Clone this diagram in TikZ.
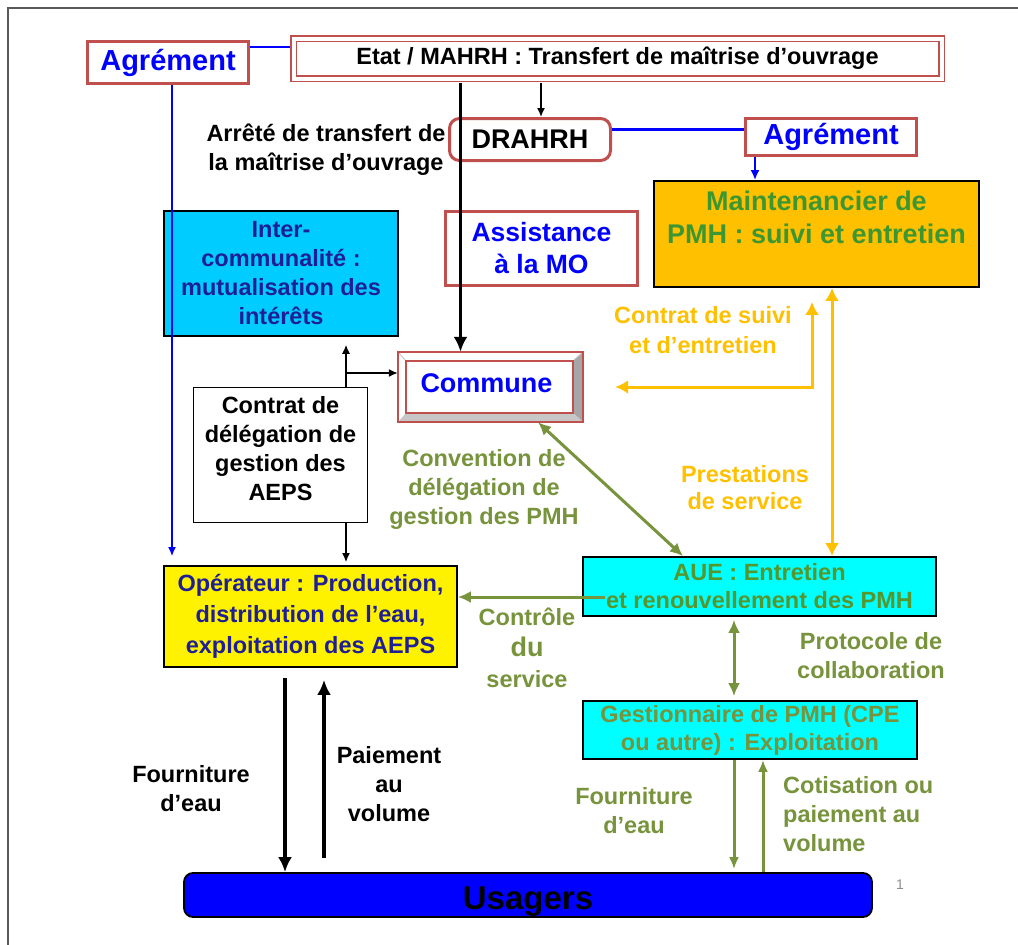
\documentclass[tikz,border=0pt]{standalone}
\usepackage{fontspec}
\setmainfont{Liberation Sans}
\usetikzlibrary{arrows.meta,calc}
\tikzset{>={Latex[length=13pt,width=12pt]}}
\definecolor{boxred}{RGB}{192,80,77}
\definecolor{olive}{RGB}{119,147,60}
\definecolor{amber}{RGB}{255,192,0}
\definecolor{skycyan}{RGB}{0,204,255}
\definecolor{aqua}{RGB}{0,255,255}
\definecolor{navy}{RGB}{30,30,150}
\definecolor{leafgreen}{RGB}{60,150,50}
\definecolor{auegreen}{RGB}{85,150,45}
\newcommand{\txt}[2]{\fontsize{#1pt}{#2pt}\selectfont\bfseries}
\tikzset{
  redbox/.style={draw=boxred, line width=3pt, fill=white, align=center, font=\txt{23.5}{29}},
  fillbox/.style={draw=black, line width=1.8pt, align=center, font=\txt{23.5}{29}},
  note/.style={align=center, font=\txt{23.5}{29}},
  thinline/.style={line width=1.5pt, >={Latex[length=9pt,width=8pt]}},
  boldline/.style={line width=3.8pt, >={Latex[length=15pt,width=14pt]}},
  oliveline/.style={draw=olive, line width=3pt},
  amberline/.style={draw=amber, line width=3pt, >={Latex[length=13pt,width=14pt]}}
}

\begin{document}
\begin{tikzpicture}[x=1pt, y=-1pt, inner sep=0pt]
\useasboundingbox (0,0) rectangle (1018,945);
\draw[line width=1.5pt, black!65] (8,945) -- (8,8) -- (1018,8); % slide frame

% boxes
\node[redbox, minimum width=161pt, minimum height=42pt, text=blue, font=\txt{29}{34}] (agrL) at (168,62.5) {Agrément};
\node[draw=boxred, double=white, double distance=4pt, line width=1.6pt, minimum width=648pt, minimum height=40pt, note] (etat) at (617.5,58.5) {Etat / MAHRH : Transfert de maîtrise d’ouvrage};
\node[redbox, rounded corners=10pt, minimum width=161pt, minimum height=42pt, font=\txt{27}{32}] (drahrh) at (530,139.5) {DRAHRH};
\node[redbox, minimum width=171pt, minimum height=37pt, text=blue, font=\txt{29}{34}] (agrR) at (831,137) {Agrément};
\node[fillbox, fill=amber, text=leafgreen, minimum width=325pt, minimum height=106pt, font=\txt{27}{33}] (maint) at (816.5,234) {Maintenancier de\\PMH : suivi et entretien\\\mbox{}};
\node[fillbox, fill=skycyan, text=navy, line width=1.5pt, minimum width=234pt, minimum height=125pt] (inter) at (281,273.5) {Inter-\\communalité :\\mutualisation des\\intérêts};
\node[redbox, minimum width=192pt, minimum height=74pt, text=blue, font=\txt{26.5}{32}] (assist) at (541.5,248.5) {Assistance\\à la MO};
\node[note, minimum width=185pt, minimum height=70pt] (commune) at (490.5,387) {};
\node[fillbox, fill=white, line width=1.2pt, minimum width=174pt, minimum height=135pt] (contrat) at (280.5,455) {};
\node[fillbox, fill=yellow, text=navy, minimum width=293pt, minimum height=101pt, font=\txt{23.5}{31}] (oper) at (310.5,616.5) {Opérateur : Production,\\distribution de l’eau,\\exploitation des AEPS};
\node[fillbox, fill=aqua, text=auegreen, minimum width=353pt, minimum height=59pt, font=\txt{23.5}{28}] (aue) at (759.5,586.5) {AUE : Entretien\\et renouvellement des PMH};
\node[fillbox, fill=aqua, text=olive, minimum width=334pt, minimum height=58pt, font=\txt{23.5}{28}] (gest) at (750,730) {Gestionnaire de PMH (CPE\\ou autre) : Exploitation};
\node[fillbox, fill=blue, rounded corners=9pt, minimum width=688pt, minimum height=44pt] (usagers) at (528,895) {};

% bevel of Commune
\coordinate (cmA) at ([xshift=8pt,yshift=-9pt]commune.north west);
\coordinate (cmB) at ([xshift=-10pt,yshift=9pt]commune.south east);
\fill[black!35] (commune.north east) -- (commune.south east) -- (cmB) -- (cmA -| cmB) -- cycle;
\fill[black!22] (commune.south west) -- (commune.south east) -- (cmB) -- (cmA |- cmB) -- cycle;
\draw[black!25, line width=0.8pt] (commune.north west) -- (cmA) (commune.north east) -- (cmA -| cmB);
\draw[boxred, line width=2pt] (cmA) rectangle (cmB);
\draw[boxred, line width=2.5pt] (commune.north west) rectangle (commune.south east);
\node[text=blue, font=\txt{27}{32}] (communetxt) at ([xshift=-4pt,yshift=4pt]commune.center) {Commune};
\node[note] (contrattxt) at ([yshift=6pt]contrat.center) {Contrat de\\délégation de\\gestion des\\AEPS};
\node[font=\txt{33}{38}] (usagerstxt) at ([yshift=-7pt]usagers.center) {Usagers};

% labels
\node[note] (arrete) at (326,150) {Arrêté de transfert de\\la maîtrise d’ouvrage};
\node[note, text=olive] (convention) at (484,489) {Convention de\\délégation de\\gestion des PMH};
\node[note, text=olive, font=\txt{23.5}{31}] (controle) at (527,648) {Contrôle\\{\fontsize{27pt}{31pt}\selectfont du}\\service};
\node[note, text=amber, font=\txt{23.5}{30}] (suivi) at (703,330) {Contrat de suivi\\et d’entretien};
\node[note, text=amber, font=\txt{23.5}{27}] (presta) at (745,488) {Prestations\\de service};
\node[note, text=olive] (protocole) at (871,656) {Protocole de\\collaboration};
\node[note, text=olive] (fournV) at (634,811) {Fourniture\\d’eau};
\node[note, text=olive, align=left, anchor=west] (cotis) at (783,814) {Cotisation ou\\paiement au\\volume};
\node[note] (fournN) at (191,789) {Fourniture\\d’eau};
\node[note] (paie) at (389,784) {Paiement\\au\\volume};
\node[text=black!45, font=\fontsize{14pt}{16pt}\selectfont] (page) at (900,885) {1};

% connectors
\draw[blue, line width=2.5pt, shorten >=3pt] ([yshift=15.5pt]agrL.east) -- ([yshift=15.5pt]agrL.east -| etat.west);
\draw[blue, thinline, ->, shorten >=9pt] ([xshift=4pt]agrL.south) -- ([xshift=4pt]agrL.south |- oper.north);
\draw[thinline, ->, shorten <=4pt] ([xshift=11pt]drahrh.north |- etat.south) -- ([xshift=11pt]drahrh.north);
\draw[boldline, ->, shorten <=4pt] ([xshift=-30pt]commune.north |- etat.south) -- ([xshift=-30pt]commune.north);
\draw[blue, line width=3pt] ([yshift=10pt]drahrh.east) -- ([yshift=10pt]drahrh.east -| agrR.west);
\draw[blue, line width=2.5pt, ->, >={Latex[length=10pt,width=9pt]}] ([xshift=-76pt]agrR.south) -- ([xshift=-76pt]agrR.south |- maint.north);
\coordinate (cup) at ([xshift=65.5pt]contrat.north);
\draw[thinline, ->, shorten >=8pt] (cup) -- (cup |- inter.south);
\draw[thinline, ->] ([yshift=14pt]cup |- commune.west) -- ([yshift=14pt]commune.west);
\draw[thinline, ->, shorten >=3pt] ([xshift=65.5pt]contrat.south) -- ([xshift=65.5pt]contrat.south |- oper.north);
\draw[oliveline, ->] ([xshift=23pt,yshift=-10.5pt]aue.west) -- ([yshift=-10.5pt]aue.west -| oper.east);
\draw[oliveline, <->] ([xshift=47.5pt]commune.south) -- ([xshift=-76.5pt]aue.north);
\draw[amberline, <->] ([xshift=15.5pt]maint.south) -- ([xshift=15.5pt]maint.south |- aue.north);
\coordinate (corner) at ([xshift=-4.5pt]maint.south |- commune.east);
\draw[amberline, <->] ([xshift=-4.5pt,yshift=-14pt]maint.south) -- (corner) -- ([xshift=32pt]commune.east);
\draw[oliveline, <->, shorten <=3pt, shorten >=4pt] ([xshift=-25.5pt]aue.south) -- ([xshift=-25.5pt]aue.south |- gest.north);
\draw[oliveline, ->, >={Latex[length=12pt,width=10pt]}, shorten >=3pt] ([xshift=-16pt]gest.south) -- ([xshift=-16pt]gest.south |- usagers.north);
\draw[oliveline, ->, >={Latex[length=12pt,width=10pt]}] ([xshift=13pt]gest.south |- usagers.north) -- ([xshift=13pt]gest.south);
\draw[boldline, line width=3.5pt, ->, shorten <=10pt] ([xshift=-25.5pt]oper.south) -- ([xshift=-25.5pt]oper.south |- usagers.north);
\draw[boldline, line width=3.5pt, ->, shorten <=14pt, shorten >=12pt] ([xshift=13.5pt]oper.south |- usagers.north) -- ([xshift=13.5pt]oper.south);
\end{tikzpicture}
\end{document}
